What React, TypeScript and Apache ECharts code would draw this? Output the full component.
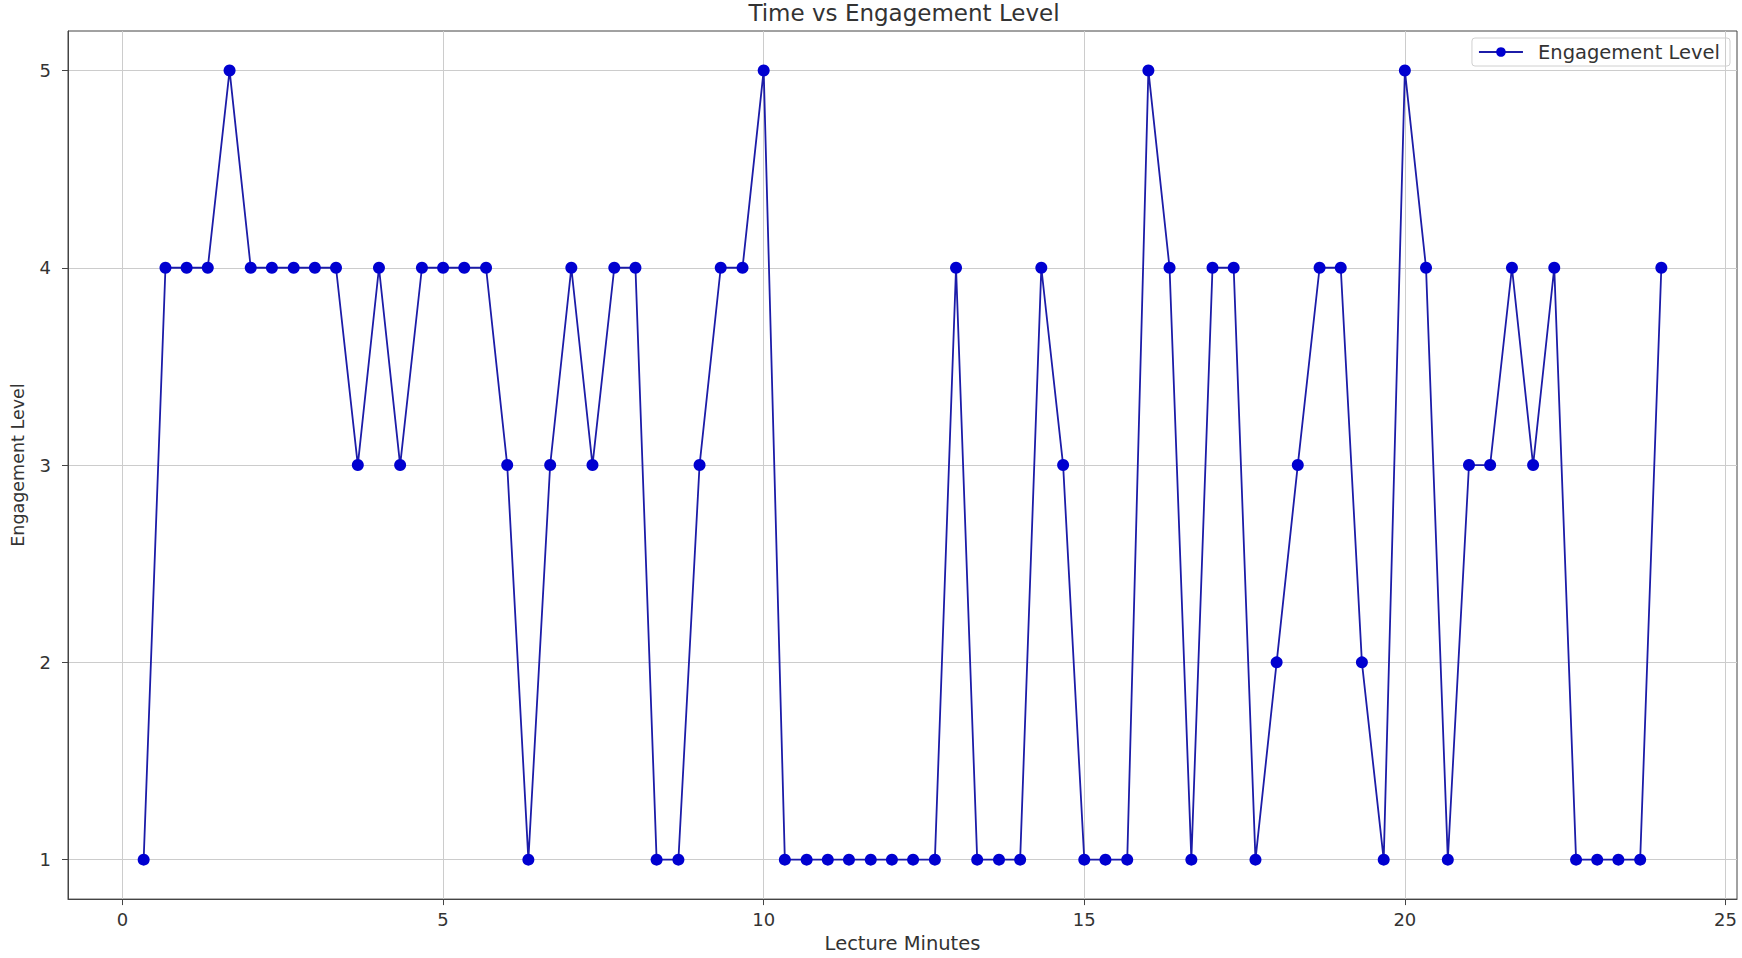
import React, { useEffect, useRef } from "react";
import * as echarts from "echarts";

const minutes = [
  0.33, 0.67, 1.0, 1.33, 1.67, 2.0, 2.33, 2.67, 3.0, 3.33, 3.67, 4.0,
  4.33, 4.67, 5.0, 5.33, 5.67, 6.0, 6.33, 6.67, 7.0, 7.33, 7.67, 8.0,
  8.33, 8.67, 9.0, 9.33, 9.67, 10.0, 10.33, 10.67, 11.0, 11.33, 11.67, 12.0,
  12.33, 12.67, 13.0, 13.33, 13.67, 14.0, 14.33, 14.67, 15.0, 15.33, 15.67, 16.0,
  16.33, 16.67, 17.0, 17.33, 17.67, 18.0, 18.33, 18.67, 19.0, 19.33, 19.67, 20.0,
  20.33, 20.67, 21.0, 21.33, 21.67, 22.0, 22.33, 22.67, 23.0, 23.33, 23.67, 24.0,
];

const engagement = [
  1, 4, 4, 4, 5, 4, 4, 4, 4, 4, 3, 4,
  3, 4, 4, 4, 4, 3, 1, 3, 4, 3, 4, 4,
  1, 1, 3, 4, 4, 5, 1, 1, 1, 1, 1, 1,
  1, 1, 4, 1, 1, 1, 4, 3, 1, 1, 1, 5,
  4, 1, 4, 4, 1, 2, 3, 4, 4, 2, 1, 5,
  4, 1, 3, 3, 4, 3, 4, 1, 1, 1, 1, 4,
];

const xTicks = [0, 5, 10, 15, 20, 25];
const yTicks = [1, 2, 3, 4, 5];

const FONT = "DejaVu Sans";

export default function App() {
  const ref = useRef<HTMLDivElement>(null);

  useEffect(() => {
    if (!ref.current) return;
    const chart = echarts.init(ref.current, undefined, { renderer: "svg" });
    const data = minutes.map((m, i) => [m, engagement[i]]);
    chart.setOption({
      animation: false,
      backgroundColor: "#ffffff",
      textStyle: { fontFamily: FONT },
      graphic: [
        {
          type: "text",
          x: 904,
          y: 1,
          style: {
            text: "Time vs Engagement Level",
            fill: "#333333",
            font: `23px '${FONT}'`,
            textAlign: "center",
            textVerticalAlign: "top",
          },
        },
      ],
      legend: {
        right: 12,
        top: 38,
        padding: [4, 10, 4, 6],
        itemWidth: 44,
        itemHeight: 12,
        borderColor: "#d0d0d0",
        borderWidth: 1,
        borderRadius: 3,
        textStyle: {
          fontFamily: FONT,
          fontSize: 19.5,
          color: "#333333",
          padding: [0, 0, 0, 10],
        },
        data: ["Engagement Level"],
      },
      grid: {
        left: 68,
        right: 5,
        top: 31,
        bottom: 56,
        show: true,
        borderColor: "#444444",
        borderWidth: 1,
        containLabel: false,
      },
      xAxis: {
        type: "value",
        min: -0.85,
        max: 25.18,
        name: "Lecture Minutes",
        nameLocation: "middle",
        nameGap: 33,
        nameTextStyle: { fontFamily: FONT, fontSize: 19.5, color: "#333333" },
        axisLine: { show: true, onZero: false, lineStyle: { color: "#444444", width: 1 } },
        axisTick: {
          show: true,
          length: 6,
          customValues: xTicks,
          lineStyle: { color: "#444444" },
        },
        axisLabel: {
          customValues: xTicks,
          margin: 11,
          fontFamily: FONT,
          fontSize: 18,
          color: "#333333",
        },
        splitLine: { show: true, lineStyle: { color: "#cccccc", width: 1 } },
      },
      yAxis: {
        type: "value",
        min: 0.8,
        max: 5.2,
        name: "Engagement Level",
        nameLocation: "middle",
        nameGap: 41,
        nameRotate: 90,
        nameTextStyle: { fontFamily: FONT, fontSize: 17.5, color: "#333333" },
        axisLine: { show: true, onZero: false, lineStyle: { color: "#444444", width: 1 } },
        axisTick: {
          show: true,
          length: 6,
          customValues: yTicks,
          lineStyle: { color: "#444444" },
        },
        axisLabel: {
          customValues: yTicks,
          margin: 17,
          fontFamily: FONT,
          fontSize: 18,
          color: "#333333",
        },
        splitLine: { show: true, lineStyle: { color: "#cccccc", width: 1 } },
      },
      series: [
        {
          name: "Engagement Level",
          type: "line",
          data,
          symbol: "circle",
          symbolSize: 12,
          showSymbol: true,
          lineStyle: { color: "#1c1ca8", width: 1.8 },
          itemStyle: { color: "#0000d0" },
          z: 3,
        },
      ],
    });
    return () => chart.dispose();
  }, []);

  return (
    <div
      ref={ref}
      style={{ position: "fixed", left: 0, top: 0, width: 1742, height: 958 }}
    />
  );
}
